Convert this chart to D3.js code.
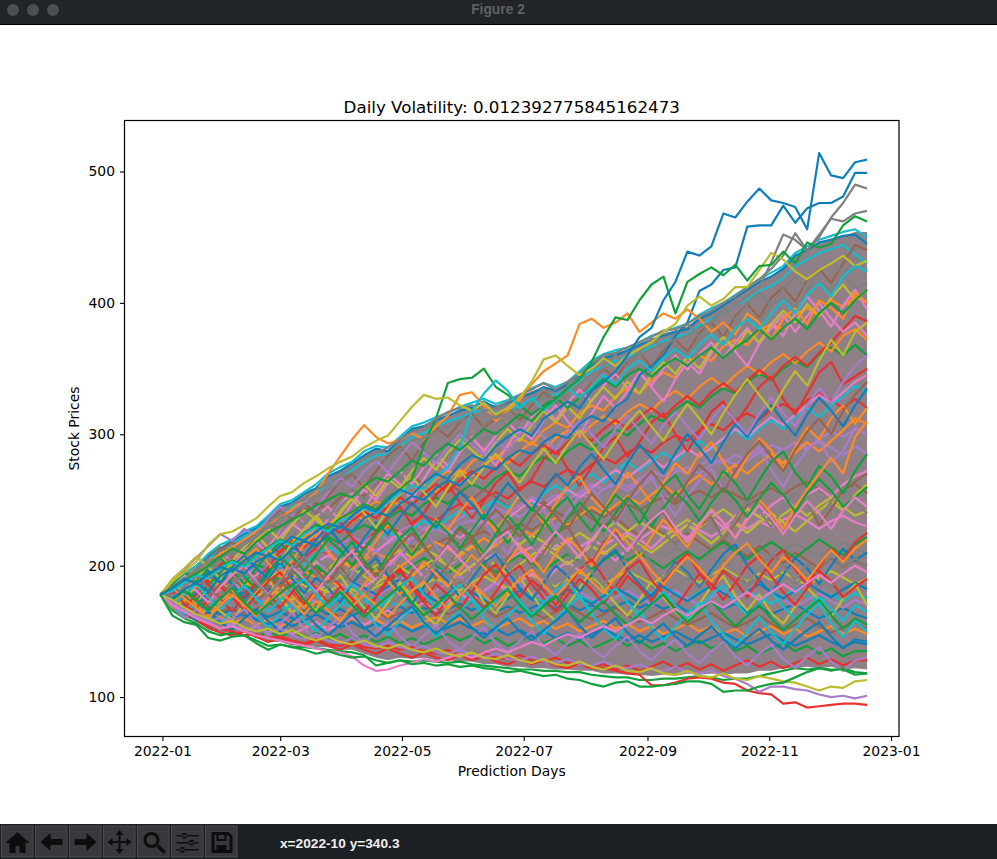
<!DOCTYPE html>
<html>
<head>
<meta charset="utf-8">
<script src="https://cdn.jsdelivr.net/npm/d3@7"></script>
<style>
  html, body { margin: 0; padding: 0; background: #fff; }
  svg { display: block; }
  text { font-family: "DejaVu Sans", sans-serif; fill: #000; }
</style>
</head>
<body>
<div id="chart"></div>
<script>
// Price every 6 days starting at startDate
var startDate = "2021-12-31";
var stepDays = 6;
var titleText = "Daily Volatility: 0.012392775845162473";
var xLabel = "Prediction Days";
var yLabel = "Stock Prices";
var xTickLabels = ["2022-01", "2022-03", "2022-05", "2022-07", "2022-09", "2022-11", "2023-01"];
var yTickLabels = [100, 200, 300, 400, 500];
var lineColors = ["#0f7fb8", "#ff8a25", "#12a03c", "#e5322f", "#a77dc9", "#96654f", "#e87fc6", "#808080", "#bdbb2e", "#12bdd0"];

// the area the thousands of paths saturate
var bandUpper = [178,184,191,197,207,213,219,223,230,236,245,248,255,259,268,273,278,284,290,288,296,305,307,312,314,319,322,324,322,325,329,333,336,335,339,347,354,359,362,364,369,372,377,379,382,389,394,399,405,410,416,420,427,436,441,446,449,451,454,454];
var bandLower = [178,167,161,158,151,149,149,150,145,142,142,139,140,138,138,136,136,133,130,128,130,129,130,128,128,127,127,125,125,123,123,122,122,121,121,120,120,118,118,117,117,116,117,116,118,117,118,117,118,118,120,120,122,122,123,122,123,121,122,121];

var bulkPaths = [
  [178,185,191,197,207,213,219,224,229,237,245,248,255,259,268,272,278,284,289,287,296,304,306,311,314,318,320,325,320,324,328,331,336,333,338,345,352,358,360,364,368,372,375,378,380,388,392,398,404,410,416,420,426,436,440,446,448,451,452,445],
  [178,181,187,192,188,197,203,199,208,214,210,219,226,222,231,238,233,243,249,245,254,261,257,266,272,268,279,285,281,291,297,292,303,309,305,316,322,318,329,335,331,341,347,343,354,360,356,367,372,368,379,384,380,391,396,390,402,397,405,400],
  [178,176,183,179,187,192,188,196,201,197,206,211,207,216,222,217,226,231,227,236,242,238,247,252,247,256,262,258,267,272,268,277,283,278,287,293,288,298,304,299,308,314,310,319,325,320,329,335,331,340,346,341,350,356,351,361,366,360,368,360],
  [178,180,176,184,188,184,191,196,192,200,204,200,208,213,209,217,222,218,226,230,225,233,238,234,242,247,243,251,256,251,259,264,260,268,273,269,277,282,278,286,291,286,294,299,295,303,308,303,311,316,311,319,323,318,326,331,326,320,327,320],
  [178,174,180,176,182,186,182,189,193,189,196,200,196,203,207,203,210,214,210,217,221,217,224,228,224,231,235,231,238,242,237,244,248,244,251,255,251,258,262,257,264,268,264,271,275,270,277,281,277,283,287,282,289,293,288,295,290,284,291,285],
  [178,182,178,185,181,188,184,190,194,190,186,193,197,193,199,203,199,205,209,205,211,215,211,217,221,216,222,226,222,228,232,227,233,237,232,238,242,237,243,247,242,248,252,247,253,257,252,258,254,249,255,259,254,260,264,258,252,258,262,255],
  [178,175,171,177,173,179,175,181,185,181,177,183,187,183,189,193,188,184,190,194,189,195,199,194,200,204,199,205,209,204,210,214,209,215,219,214,220,215,221,225,220,226,230,225,231,227,222,228,233,228,234,229,235,239,234,228,234,238,233,230],
  [178,180,184,180,186,190,186,192,188,184,190,194,190,196,192,188,194,198,194,200,196,192,198,202,198,204,200,196,202,206,201,207,203,198,204,209,204,210,206,201,207,212,207,213,209,204,210,215,210,216,211,206,212,217,212,207,213,218,213,210],
  [178,176,172,178,174,170,176,180,176,182,178,174,180,184,180,186,182,178,184,188,184,180,186,190,186,181,187,192,187,183,189,193,188,184,190,195,190,185,191,196,191,186,192,197,192,187,193,198,193,188,194,189,195,190,185,191,196,191,186,190],
  [178,173,169,173,169,172,168,171,175,171,167,171,175,171,176,172,168,172,177,173,169,174,178,174,170,175,179,175,171,176,181,176,172,177,182,177,172,178,183,178,173,179,184,179,174,180,185,180,175,181,176,171,177,182,177,172,178,173,179,175],
  [178,172,168,164,168,163,167,162,166,161,165,160,164,168,163,167,162,166,161,165,169,164,168,163,167,171,166,170,165,169,164,168,172,167,171,166,170,165,169,173,168,172,167,171,165,169,173,167,171,165,169,163,167,171,165,160,164,168,163,160],
  [178,170,166,162,157,161,156,160,155,159,154,158,153,157,152,156,160,155,159,154,158,153,157,161,156,160,154,158,152,156,160,154,158,152,156,150,154,158,152,156,150,154,148,152,156,150,154,148,152,146,150,154,148,152,146,150,154,148,152,148],
  [178,171,165,160,155,151,155,150,146,150,146,150,145,149,144,148,143,147,142,146,141,145,140,144,148,143,147,141,145,139,143,147,141,145,139,143,137,141,145,139,143,137,141,135,139,143,137,141,135,139,133,137,141,135,139,133,137,131,135,135],
  [178,168,163,158,153,149,147,150,146,142,145,141,139,143,139,136,140,136,133,137,133,130,134,130,128,132,128,131,127,125,129,125,128,124,122,126,122,125,121,124,120,123,127,122,126,121,125,120,124,128,123,127,122,126,130,125,129,124,128,128],
  [178,184,188,194,190,196,202,198,204,200,206,212,208,214,210,216,222,218,224,220,226,232,228,234,230,236,242,238,244,240,246,252,248,254,250,256,262,258,264,260,266,272,268,274,270,276,282,278,284,280,286,292,288,294,290,296,302,298,304,300],
  [178,186,193,199,208,214,210,221,226,232,228,238,242,248,243,252,258,253,262,266,259,268,262,255,263,257,250,258,252,245,251,243,249,241,236,243,236,230,237,229,223,230,224,217,225,218,212,220,213,207,215,208,202,210,204,198,206,199,204,200],
  [178,171,166,161,157,152,156,150,154,149,153,148,152,157,151,156,161,155,160,166,160,167,172,166,173,179,173,181,187,180,188,194,188,197,203,196,205,211,204,213,220,213,222,228,221,230,237,229,238,244,237,246,252,244,254,259,252,262,268,272],
  [178,183,189,195,201,197,207,213,209,219,226,222,232,239,235,246,252,247,258,264,259,271,278,273,284,290,285,296,302,297,309,316,311,322,329,323,335,342,336,347,353,348,359,366,360,372,379,373,385,392,386,398,404,397,409,416,409,421,411,415],
  [178,181,177,184,190,185,192,187,183,190,196,191,197,203,198,205,199,194,200,206,212,206,213,208,202,209,215,209,216,222,216,223,218,212,219,225,219,227,233,226,233,228,222,229,235,229,237,243,236,243,237,232,239,245,238,246,252,245,238,242],
  [178,177,182,188,183,190,195,191,198,193,200,206,201,209,214,209,217,212,219,226,220,228,234,228,236,242,236,244,250,244,252,246,255,261,255,264,270,263,272,279,272,280,286,280,288,295,288,297,303,296,304,311,304,313,320,313,322,329,337,332],
  [178,174,170,165,161,165,160,164,159,155,159,154,158,163,158,153,157,152,156,151,155,150,154,149,153,157,152,148,152,147,151,146,150,145,149,144,148,152,147,143,147,142,146,150,145,141,145,149,144,140,144,148,143,139,143,147,142,138,142,140],
  [178,185,181,190,197,192,200,206,202,211,218,213,222,228,224,233,240,235,244,251,246,255,262,256,266,273,268,277,284,278,287,294,288,297,303,298,307,314,308,317,323,318,327,333,327,336,343,336,345,352,346,355,361,354,363,370,363,375,380,372],
  [178,174,178,183,179,186,191,186,180,186,192,187,193,199,193,188,194,200,194,188,194,200,206,200,194,201,207,201,195,202,208,202,196,203,209,203,197,204,210,204,210,204,198,205,211,205,212,218,211,205,212,218,212,206,213,220,214,208,216,222],
  [178,179,186,193,188,197,204,199,208,215,210,219,214,223,230,225,234,241,236,245,252,246,255,262,256,265,272,266,275,282,276,285,292,285,294,301,295,304,311,304,313,320,313,322,329,322,332,339,332,341,349,342,352,359,352,362,370,380,390,386],
  [178,181,185,181,176,182,187,182,177,172,177,182,177,172,177,182,187,182,177,182,187,182,176,181,187,192,186,180,186,192,186,180,175,181,186,180,175,170,176,181,176,170,176,181,175,170,176,181,175,180,186,180,174,169,174,179,173,168,174,170],
  [178,175,171,174,169,165,168,163,167,172,167,162,166,171,166,161,165,170,165,160,164,169,174,168,163,167,172,167,161,166,171,165,160,165,169,164,159,163,168,162,157,161,166,160,155,159,164,158,153,157,162,156,151,155,160,154,149,153,157,152],
  [178,182,188,184,191,197,192,186,193,200,195,188,195,202,208,203,210,216,211,218,225,219,226,233,227,221,228,235,229,236,243,250,244,251,258,252,259,266,273,267,274,281,275,282,289,283,290,297,304,298,306,313,307,315,322,330,324,332,340,345],
  [178,172,176,170,174,179,184,179,174,180,175,170,175,181,176,170,176,171,165,170,176,170,164,170,176,181,175,170,176,182,176,182,188,182,177,183,189,183,178,184,190,184,178,185,191,185,191,197,191,185,192,198,192,186,193,199,207,200,208,206],
  [178,183,179,174,180,186,181,187,183,178,184,190,185,180,186,192,198,192,186,193,199,193,200,206,200,193,200,207,200,194,201,208,214,208,201,208,215,209,216,223,216,210,217,224,231,224,217,225,232,225,233,240,233,226,234,242,249,242,254,262],
  [178,187,192,198,205,212,217,222,227,235,241,245,250,256,262,268,273,279,284,285,291,298,301,306,310,313,316,319,316,318,322,326,331,330,334,341,348,352,356,359,362,367,371,374,376,383,388,392,398,403,409,413,419,428,433,438,441,444,437,430],
  [178,170,174,179,175,170,175,180,186,181,187,192,187,182,188,194,188,183,178,184,190,184,179,173,179,185,180,174,169,175,181,175,170,176,182,176,171,177,183,178,172,178,184,178,173,179,185,179,174,180,186,180,175,181,187,181,176,182,187,182],
  [178,176,172,176,181,177,182,188,183,189,184,190,196,191,197,203,198,204,210,205,199,206,212,218,213,207,214,221,215,222,229,223,230,237,231,238,245,239,246,253,247,254,261,254,262,269,262,270,277,270,278,285,278,286,294,287,295,303,312,308],
  [178,166,160,156,150,147,149,147,143,139,140,138,138,137,136,135,134,132,124,126,128,127,128,127,126,127,125,124,123,122,121,121,120,120,119,119,117,116,115,115,113,113,114,114,115,116,115,113,114,114,116,118,120,122,121,122,120,122,119,118],
  [178,186,192,183,190,201,207,196,188,199,211,218,206,214,227,233,221,212,224,238,245,231,240,254,262,248,236,249,263,271,257,266,281,289,274,261,275,290,298,283,294,309,316,300,287,302,317,325,308,321,336,344,327,315,331,347,355,338,344,350],
  [178,171,165,176,184,173,180,192,199,187,176,188,197,206,193,181,194,205,212,198,208,221,228,214,201,215,227,234,219,209,223,236,243,228,240,254,260,245,232,247,258,267,251,238,253,265,274,258,269,283,290,273,260,276,288,296,279,287,305,300],
  [178,183,174,168,179,186,192,181,171,183,190,178,169,181,194,200,187,195,207,193,182,195,203,190,200,213,219,204,192,206,214,199,210,224,230,214,203,218,226,210,221,236,241,225,214,230,237,220,232,246,251,234,224,240,248,231,243,258,264,270],
  [178,187,195,188,199,210,203,215,224,214,228,240,232,221,236,248,255,243,258,270,262,250,266,280,272,286,297,288,276,292,305,296,311,322,310,299,316,329,320,333,347,336,325,342,355,346,362,374,363,352,369,384,375,392,405,394,382,398,410,395],
  [178,173,182,191,184,176,188,197,189,203,194,183,195,206,198,187,200,213,204,192,205,218,226,212,201,214,207,196,209,223,231,216,205,219,211,200,214,228,220,208,222,235,226,215,229,241,233,221,236,250,242,229,244,256,247,235,249,260,248,240],
  [178,168,174,185,177,165,159,171,180,190,176,164,173,166,184,193,179,168,160,172,187,175,163,155,169,181,188,172,164,177,191,178,166,158,170,183,196,182,171,162,174,188,176,165,157,171,184,192,177,166,178,164,156,169,183,174,161,175,186,170],
  [178,170,163,172,164,156,166,174,162,153,163,171,158,150,160,170,178,165,155,147,158,168,156,146,157,166,174,160,151,162,171,158,148,159,169,177,163,152,144,155,165,153,143,154,164,172,158,148,138,150,161,149,140,152,163,171,156,146,158,150],
  [178,185,177,169,180,192,186,175,184,196,203,190,179,191,183,172,186,198,206,192,180,171,184,197,188,176,190,202,209,195,183,174,187,200,192,180,193,205,212,197,186,176,190,203,195,183,197,209,216,200,189,179,193,206,198,186,200,213,204,210],
  [178,182,190,199,191,182,194,205,213,202,191,204,216,224,211,199,212,205,219,231,222,209,223,235,227,241,252,238,226,240,254,245,232,247,261,268,252,242,257,271,260,248,263,278,270,285,294,279,267,283,297,288,274,290,305,296,312,322,308,320],
  [178,175,183,174,185,195,203,192,182,194,207,198,187,200,193,207,218,204,194,208,221,229,215,203,217,230,222,209,224,238,228,216,231,244,252,237,226,241,254,246,232,248,261,269,254,243,258,272,263,250,265,279,287,271,260,276,268,255,272,285],
  [178,181,171,163,174,184,176,166,178,188,195,182,171,181,192,185,173,164,176,188,196,183,172,162,175,187,178,167,180,193,200,186,175,165,178,190,182,171,184,197,204,189,178,168,181,194,186,174,187,200,207,192,180,170,183,196,188,176,184,190],
  [178,169,160,167,158,151,160,167,155,147,156,164,152,144,153,161,149,141,150,157,146,138,147,155,143,136,145,153,141,134,143,150,139,132,141,148,137,130,139,146,135,128,137,144,133,126,135,142,131,124,133,140,129,122,131,138,127,120,128,130],
  [178,188,196,190,201,212,218,210,222,233,242,235,247,240,253,264,270,259,272,284,291,280,294,305,298,309,316,305,312,320,311,322,332,324,335,328,340,350,343,355,362,351,364,372,363,377,385,374,390,399,389,404,412,401,417,426,415,430,444,440],
  [178,184,193,186,197,207,199,211,218,209,222,232,225,237,245,234,247,258,250,263,272,262,275,285,276,288,298,287,299,309,300,313,322,311,324,334,325,337,346,335,347,337,350,360,349,361,370,358,370,381,369,381,391,378,390,400,388,378,385,375],
  [178,180,189,198,205,196,208,216,225,217,229,239,231,243,236,249,259,250,263,274,266,279,288,280,293,303,295,307,315,306,318,327,335,325,337,347,340,352,360,351,362,373,365,376,384,374,386,396,387,399,408,398,411,420,410,424,433,421,435,425],
  [178,186,180,191,200,207,198,209,220,228,219,231,242,235,227,241,252,262,253,266,259,272,282,273,286,296,288,280,294,304,295,307,318,309,321,312,326,336,327,340,331,345,355,346,359,350,364,374,365,379,370,384,394,385,399,390,404,414,402,410],
  [178,186,194,200,209,216,220,226,230,238,247,250,256,262,270,275,279,287,291,290,298,306,309,313,316,321,324,327,323,326,330,335,339,336,340,348,356,361,364,366,370,375,378,381,384,391,396,400,406,412,418,423,428,438,443,448,451,454,456,450],
  [178,183,176,188,196,187,199,208,198,190,203,215,207,220,229,218,207,221,233,224,237,248,238,229,243,256,247,235,250,263,253,242,257,270,261,275,285,273,262,278,292,282,270,286,300,290,278,294,308,298,312,322,310,299,315,328,318,306,322,335],
  [178,172,180,170,162,173,181,171,163,175,185,177,168,180,191,183,173,186,197,188,178,191,203,194,184,197,208,199,189,203,215,206,195,209,221,212,200,215,228,218,207,222,235,225,214,230,243,233,221,237,250,240,228,245,258,270,282,270,298,310],
  [178,186,195,187,198,206,196,186,198,209,218,207,196,208,220,212,200,213,225,233,220,208,221,234,225,213,227,239,230,217,231,244,235,222,236,248,239,226,240,252,243,230,244,256,247,234,248,259,250,237,251,263,254,241,255,266,257,245,252,260],
  [178,174,168,178,186,175,165,177,187,179,168,180,191,183,172,184,175,164,177,190,198,185,174,186,178,167,180,193,201,188,176,189,181,170,183,197,205,191,179,192,184,173,187,201,209,194,182,196,188,176,190,204,212,197,185,199,213,204,218,225],
  [178,188,197,206,215,224,219,228,223,236,245,238,250,243,256,267,260,272,280,271,283,294,286,278,290,300,292,284,296,288,300,309,298,288,301,310,300,290,304,314,303,293,307,317,306,296,311,322,310,300,316,328,316,306,322,335,324,340,352,360],
  [178,170,176,168,177,186,179,172,182,191,184,195,205,197,187,199,210,202,192,204,216,225,214,204,217,228,220,232,243,233,222,236,247,238,228,242,255,245,234,249,262,272,260,249,264,277,268,256,272,285,295,283,272,288,302,312,300,318,330,340],
  [178,182,190,181,172,184,193,200,188,178,189,199,190,180,192,203,211,198,188,200,210,201,191,204,215,205,195,208,219,226,213,203,216,226,217,206,220,231,222,211,224,235,242,229,218,232,242,233,221,235,246,236,224,238,249,240,228,242,252,245],
  [178,176,184,192,183,174,185,195,187,177,189,198,207,194,184,195,186,176,188,199,190,180,192,203,194,184,196,206,213,200,189,200,192,181,193,204,195,185,197,208,215,201,190,201,193,182,194,205,196,186,198,209,200,189,201,192,183,195,206,200],
  [178,190,198,207,199,190,204,214,224,213,203,217,228,238,227,240,251,240,229,243,255,268,256,245,259,272,262,275,285,274,263,277,289,278,292,303,292,281,295,308,318,306,295,310,323,312,300,316,330,342,330,318,334,348,337,356,372,360,378,385],
  [178,170,178,186,176,167,176,185,175,165,174,183,190,178,168,177,186,176,166,175,184,191,178,168,177,186,175,165,174,183,173,163,172,181,188,175,165,174,183,172,162,171,180,170,160,169,178,185,172,162,171,180,169,159,168,176,167,158,170,165],
  [178,172,165,158,165,157,151,160,167,158,150,158,165,155,147,155,163,153,146,154,162,169,157,148,156,163,153,145,153,160,150,143,151,158,166,154,145,153,160,149,141,149,156,146,139,147,154,144,137,145,152,143,136,144,151,157,146,137,144,142],
  [178,183,175,168,160,170,178,170,162,172,180,172,163,173,166,158,169,178,170,161,171,181,188,176,167,177,187,178,169,180,190,197,185,176,187,197,188,179,191,201,208,196,186,197,207,198,188,200,210,217,205,195,207,199,189,201,212,203,213,220],
  [178,174,181,173,166,175,183,172,163,171,179,186,174,164,172,180,170,161,169,177,184,172,162,170,178,168,159,167,175,182,170,161,169,177,166,157,165,173,163,155,163,171,178,166,157,165,173,163,154,162,170,160,151,159,167,174,162,152,160,155]
];

// Paths that stand out at the edge of the fan, each with its own colour
var heroPaths = [
  [178,175,182,187,180,192,198,194,203,208,204,213,219,215,224,230,226,236,241,238,247,253,250,259,265,261,270,276,273,282,288,285,294,300,297,308,314,310,321,327,345,352,360,375,385,409,414,425,427,458,459,459,474,461,472,476,476,481,499,499],
  [178,184,190,195,203,209,214,220,226,232,236,243,250,256,270,283,296,307,298,293,296,301,296,306,314,330,332,322,310,318,326,338,348,354,360,384,388,381,385,392,378,385,392,388,395,388,378,385,376,392,385,372,388,396,384,402,396,388,408,400],
  [178,184,190,186,193,199,204,200,208,214,220,216,225,231,228,236,241,247,243,252,258,266,292,312,339,342,343,350,336,330,322,315,322,328,320,328,335,342,336,345,350,344,352,358,352,360,366,358,366,372,380,372,381,388,380,392,400,392,402,410],
  [178,170,165,160,155,152,150,147,148,145,146,143,141,144,140,139,142,138,137,139,136,138,135,133,136,132,131,134,130,129,132,128,127,130,126,125,122,122,120,118,117,109,109,111,114,115,114,111,110,105,103,102,95,96,92,93,94,95,95,94],
  [178,172,166,162,158,160,155,151,153,149,152,147,144,148,143,141,145,140,138,142,138,136,139,134,133,136,132,130,133,129,128,131,127,126,129,125,124,127,123,122,125,121,120,123,119,118,120,116,114,110,104,108,108,106,105,102,100,101,99,101],
  [178,170,165,160,156,152,154,150,147,145,143,141,139,137,135,134,131,124,120,121,124,126,129,127,130,133,130,134,137,134,138,142,139,144,148,145,150,154,150,155,160,156,162,167,162,168,173,168,174,180,174,180,186,180,187,193,187,194,200,195],
  [178,184,190,196,203,207,212,218,224,232,240,247,250,258,262,268,275,282,286,290,296,302,305,312,317,320,322,318,320,325,330,334,339,334,340,346,354,360,362,366,370,374,379,380,384,390,394,400,405,412,418,426,436,453,440,450,465,476,490,487],
  [178,183,188,194,199,206,210,216,222,229,236,240,246,252,258,263,268,276,281,280,288,295,297,302,306,310,313,316,312,316,320,324,328,326,330,338,345,350,353,356,360,365,369,372,375,381,386,392,398,405,412,431,452,448,440,452,464,462,468,470],
  [178,188,195,203,216,224,226,231,236,245,253,256,263,268,274,279,283,290,295,299,310,321,330,327,328,322,318,324,315,320,328,340,357,360,352,345,350,358,352,360,365,370,378,384,398,405,398,403,412,412,425,438,433,424,418,425,430,436,428,432],
  [178,174,168,163,160,156,158,153,150,152,148,151,146,143,146,142,140,143,139,137,140,136,134,137,133,131,134,130,129,132,128,126,129,125,124,127,123,121,124,120,119,122,118,117,120,116,115,118,114,113,116,114,112,111,108,105,108,107,112,113],
  [178,181,187,193,190,198,203,199,207,213,219,215,224,229,226,234,238,244,240,249,255,261,258,268,275,290,318,331,341,333,320,328,318,326,335,328,336,345,338,350,356,348,358,365,358,368,376,368,380,388,380,392,402,392,406,415,405,420,428,424],
  [178,162,157,155,145,143,146,147,141,136,140,138,136,133,135,132,130,131,128,126,128,125,126,124,125,123,124,122,121,119,120,118,116,117,114,113,110,108,111,112,108,108,109,110,112,112,110,104,105,105,108,110,111,115,119,122,121,121,117,118],
  [178,183,189,194,200,207,213,209,218,225,230,235,240,246,250,255,252,261,267,264,272,280,276,286,293,288,296,304,300,308,315,310,320,327,335,342,355,374,389,387,402,414,420,392,416,422,427,421,429,417,428,429,439,430,446,442,445,459,466,462],
  [178,183,190,186,194,199,196,204,210,207,215,222,219,226,232,229,238,245,241,250,258,254,263,270,266,277,284,280,291,298,304,299,312,318,325,320,333,340,348,360,374,381,402,416,439,436,443,468,465,477,487,478,476,473,456,514,497,495,507,509]
];
var heroColors = ["#0f7fb8", "#ff8a25", "#12a03c", "#e5322f", "#a77dc9", "#e87fc6", "#808080", "#808080", "#bdbb2e", "#bdbb2e", "#12bdd0", "#12a03c", "#12a03c", "#0f7fb8"];

var svgWidth = 997;
var svgHeight = 859;
var margin = { top: 120.5, right: 98, bottom: 122.5, left: 124.5 };
var width = svgWidth - margin.left - margin.right;
var height = svgHeight - margin.top - margin.bottom;

var parseDate = d3.utcParse("%Y-%m-%d");
var parseMonth = d3.utcParse("%Y-%m");
var start = parseDate(startDate);
function dateAt(i) { return d3.utcDay.offset(start, i * stepDays); }

var svg = d3.select("#chart")
  .append("svg")
  .attr("width", svgWidth)
  .attr("height", svgHeight);

svg.append("rect").attr("width", svgWidth).attr("height", svgHeight).attr("fill", "#fff");

var chartGroup = svg.append("g")
  .attr("transform", `translate(${margin.left}, ${margin.top})`);

// Scales
var xScale = d3.scaleUtc()
  .domain([d3.utcDay.offset(parseMonth("2022-01"), -18.3), d3.utcDay.offset(parseMonth("2023-01"), 4.5)])
  .range([0, width]);

var yScale = d3.scaleLinear()
  .domain([70, 538.8])
  .range([height, 0]);

// Band behind the paths
var bandArea = d3.area()
  .x((d, i) => xScale(dateAt(i)))
  .y0((d, i) => yScale(bandLower[i]))
  .y1(d => yScale(d));

chartGroup.append("path")
  .datum(bandUpper)
  .attr("d", bandArea)
  .attr("fill", "#8f8088");

// Paths
var priceLine = d3.line()
  .x((d, i) => xScale(dateAt(i)))
  .y(d => yScale(d));

chartGroup.append("g")
  .selectAll("path")
  .data(bulkPaths)
  .enter()
  .append("path")
  .attr("d", priceLine)
  .attr("fill", "none")
  .attr("stroke", (d, i) => lineColors[i % lineColors.length])
  .attr("stroke-width", 2.2)
  .attr("stroke-linejoin", "round");

chartGroup.append("g")
  .selectAll("path")
  .data(heroPaths)
  .enter()
  .append("path")
  .attr("d", priceLine)
  .attr("fill", "none")
  .attr("stroke", (d, i) => heroColors[i])
  .attr("stroke-width", 2.2)
  .attr("stroke-linejoin", "round");

// Axes
var bottomAxis = d3.axisBottom(xScale)
  .tickValues(xTickLabels.map(parseMonth))
  .tickFormat(d3.utcFormat("%Y-%m"))
  .tickSize(4.5)
  .tickPadding(5);

var leftAxis = d3.axisLeft(yScale)
  .tickValues(yTickLabels)
  .tickSize(4.5)
  .tickPadding(5);

var xAxisGroup = chartGroup.append("g")
  .attr("transform", `translate(0, ${height})`)
  .call(bottomAxis);

var yAxisGroup = chartGroup.append("g")
  .call(leftAxis);

[xAxisGroup, yAxisGroup].forEach(function(g) {
  g.select(".domain").remove();
  g.selectAll("line").attr("stroke", "#000").attr("stroke-width", 1.1);
  g.selectAll("text").attr("font-size", 13.9).attr("font-family", "DejaVu Sans").attr("fill", "#000");
});

chartGroup.append("rect")
  .attr("width", width)
  .attr("height", height)
  .attr("fill", "none")
  .attr("stroke", "#000")
  .attr("stroke-width", 1.2);

// Title and axis labels
chartGroup.append("text")
  .attr("x", width / 2)
  .attr("y", -8)
  .attr("text-anchor", "middle")
  .attr("font-size", 16.7)
  .text(titleText);

chartGroup.append("text")
  .attr("x", width / 2)
  .attr("y", height + 39.5)
  .attr("text-anchor", "middle")
  .attr("font-size", 13.9)
  .text(xLabel);

chartGroup.append("text")
  .attr("transform", `translate(-46, ${height / 2}) rotate(-90)`)
  .attr("text-anchor", "middle")
  .attr("font-size", 13.9)
  .text(yLabel);

// Window title bar
var titleBar = svg.append("g");
titleBar.append("rect").attr("width", svgWidth).attr("height", 24).attr("fill", "#212428");
titleBar.append("rect").attr("y", 24).attr("width", svgWidth).attr("height", 1).attr("fill", "#000");
titleBar.selectAll("circle")
  .data([13, 33, 53])
  .enter()
  .append("circle")
  .attr("cx", d => d)
  .attr("cy", 10)
  .attr("r", 6)
  .attr("fill", "#4b4e52");
titleBar.append("text")
  .attr("x", 498)
  .attr("y", 14)
  .attr("text-anchor", "middle")
  .attr("font-size", 13.8)
  .attr("font-weight", "bold")
  .style("font-family", "Liberation Sans")
  .style("fill", "#5f6266")
  .text("Figure 2");

// Toolbar at the bottom
var toolbar = svg.append("g").attr("transform", "translate(0, 824)");
toolbar.append("rect").attr("width", svgWidth).attr("height", 35).attr("fill", "#1c1f23");

var iconHome = "M16 6 L4 17 h4 v10 h6 v-7 h4 v7 h6 v-10 h4 z";
var iconBack = "M5 16 L15 7 v6 h12 v6 h-12 v6 z";
var iconForward = "M27 16 L17 7 v6 h-12 v6 h12 v6 z";
var iconMove = "M16 4 l4 5 h-3 v6 h6 v-3 l5 4 l-5 4 v-3 h-6 v6 h3 l-4 5 l-4 -5 h3 v-6 h-6 v3 l-5 -4 l5 -4 v3 h6 v-6 h-3 z";
var iconZoom = "M14 6 a8 8 0 1 0 0.01 0 z M14 9 a5 5 0 1 1 -0.01 0 z M19 21 l2.500 -2.500 l7 7 l-2.500 2.500 z";
var iconSliders = "M5 9 h22 v1.500 h-22 z M5 16 h22 v1.500 h-22 z M5 23 h22 v1.500 h-22 z M11 7 h4 v5.500 h-4 z M18 14 h4 v5.500 h-4 z M9 21 h4 v5.500 h-4 z";
var iconSave = "M6 6 h17 l4 4 v17 h-21 z M9 9 v15 h15 v-13 l-2 -2 h-1 v6 h-10 v-6 z M13 9 v4 h6 v-4 z M11 19 h10 v5 h-10 z";
var toolIcons = [iconHome, iconBack, iconForward, iconMove, iconZoom, iconSliders, iconSave];

var buttons = toolbar.selectAll("g.tool")
  .data(toolIcons)
  .enter()
  .append("g")
  .attr("class", "tool")
  .attr("transform", (d, i) => `translate(${1.5 + i * 34}, 2)`);

buttons.append("rect")
  .attr("width", 31.5)
  .attr("height", 31)
  .attr("fill", "#37393d")
  .attr("stroke", "#4a4c50");

buttons.append("path")
  .attr("d", d => d)
  .attr("fill", "#0c0d0e")
  .attr("fill-rule", "evenodd");

toolbar.append("text")
  .attr("x", 280)
  .attr("y", 23.5)
  .attr("font-size", 13.7)
  .attr("font-weight", "bold")
  .style("font-family", "Liberation Sans")
  .style("fill", "#f0f0f0")
  .text("x=2022-10 y=340.3");
</script>
</body>
</html>
